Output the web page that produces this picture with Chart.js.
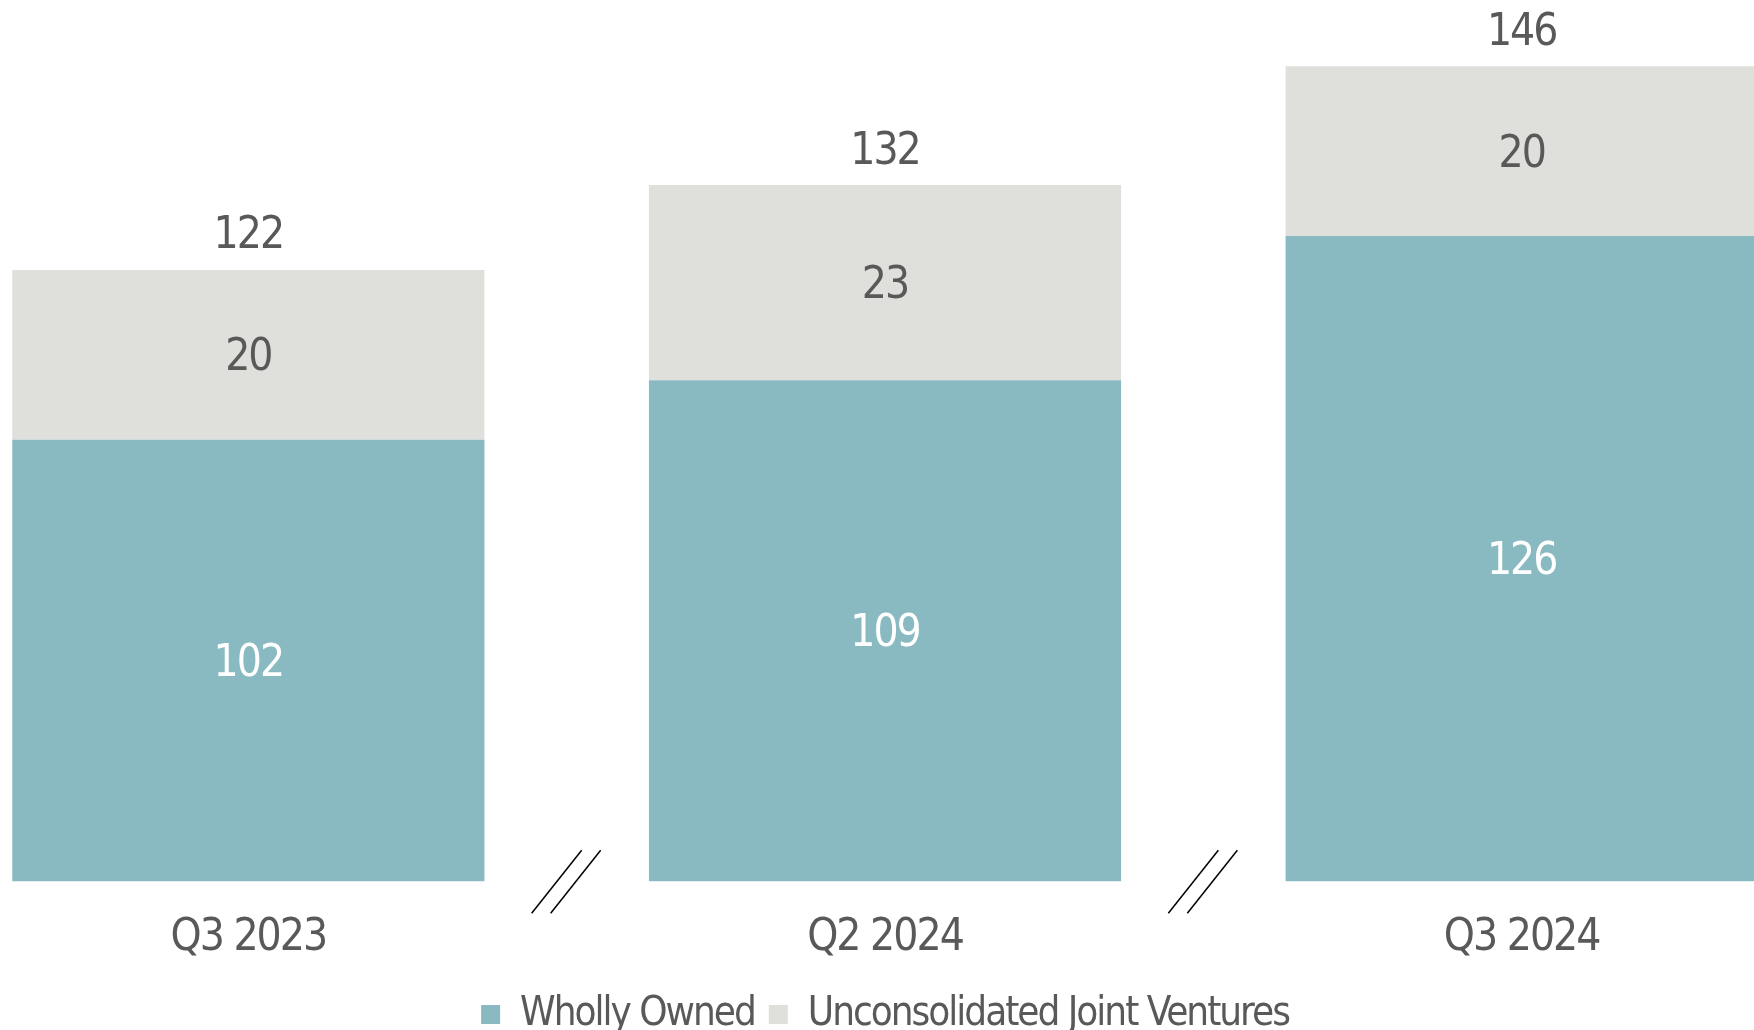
<!DOCTYPE html>
<html>
<head>
<meta charset="utf-8">
<script src="https://cdn.jsdelivr.net/npm/chart.js@4.4.1/dist/chart.umd.min.js"></script>
<style>
  html, body { margin: 0; padding: 0; background: #fff; overflow: hidden; }
  #wrap { position: absolute; left: -70px; top: 0; width: 1910px; height: 1030px; }
</style>
</head>
<body>
<div id="wrap"><canvas id="canvas"></canvas></div>
<script>
const quarters = ['Q3 2023', 'Q2 2024', 'Q3 2024'];
const whollyOwned = [102, 109, 126];
const jointVentures = [20, 23, 20];

const FONT = "'DejaVu Sans Condensed', 'DejaVu Sans', sans-serif";
const GREY_TEXT = '#595959';

// tighter tracking for all canvas text
const tightText = {
    id: 'tightText',
    beforeLayout(chart) { chart.ctx.letterSpacing = '-2px'; },
    beforeDraw(chart) { chart.ctx.letterSpacing = '-2px'; }
};

// value labels inside each segment and the stack total above it
const barLabels = {
    id: 'barLabels',
    afterDatasetsDraw(chart) {
        const ctx = chart.ctx;
        const bottom = chart.chartArea.bottom;
        ctx.save();
        ctx.textAlign = 'center';
        ctx.textBaseline = 'middle';
        ctx.font = '44px ' + FONT;
        chart.data.datasets.forEach((ds, di) => {
            const meta = chart.getDatasetMeta(di);
            meta.data.forEach((bar, i) => {
                const base = Math.min(bar.base, bottom);
                ctx.fillStyle = di === 0 ? '#ffffff' : GREY_TEXT;
                ctx.fillText(String(ds.data[i]), bar.x, (bar.y + base) / 2 + 4);
            });
        });
        const top = chart.getDatasetMeta(chart.data.datasets.length - 1);
        top.data.forEach((bar, i) => {
            const total = chart.data.datasets.reduce((s, ds) => s + ds.data[i], 0);
            ctx.fillStyle = GREY_TEXT;
            ctx.fillText(String(total), bar.x, bar.y - 33);
        });
        ctx.restore();
    }
};

// "//" axis-break marks between the quarters
const breakMarks = {
    id: 'breakMarks',
    afterDraw(chart) {
        const ctx = chart.ctx;
        const xs = chart.scales.x;
        const y = chart.chartArea.bottom;
        ctx.save();
        ctx.strokeStyle = '#000';
        ctx.lineWidth = 1.5;
        for (let i = 0; i < quarters.length - 1; i++) {
            const cx = (xs.getPixelForValue(i) + xs.getPixelForValue(i + 1)) / 2;
            [-35, -16].forEach(off => {
                ctx.beginPath();
                ctx.moveTo(cx + off, y + 32);
                ctx.lineTo(cx + off + 50, y - 31);
                ctx.stroke();
            });
        }
        ctx.restore();
    }
};

const ctx = document.getElementById('canvas').getContext('2d');
new Chart(ctx, {
    type: 'bar',
    data: {
        labels: quarters,
        datasets: [{
            label: 'Wholly Owned',
            data: whollyOwned,
            backgroundColor: '#8abac1'
        }, {
            label: 'Unconsolidated Joint Ventures',
            data: jointVentures,
            backgroundColor: '#dfdfdb'
        }]
    },
    options: {
        responsive: true,
        maintainAspectRatio: false,
        animation: false,
        layout: { padding: { top: 0, left: 0, right: 0, bottom: -14.5 } },
        datasets: {
            bar: { categoryPercentage: 1, barPercentage: 0.7416 }
        },
        scales: {
            x: {
                stacked: true,
                grid: { display: false },
                border: { display: false },
                ticks: { color: GREY_TEXT, font: { family: FONT, size: 44 }, padding: 23 },
                afterFit(scale) { scale.height -= 7.5; }
            },
            y: {
                stacked: true,
                display: false,
                min: 50,
                max: 153.8
            }
        },
        plugins: {
            tooltip: { enabled: false },
            legend: {
                position: 'bottom',
                labels: {
                    color: GREY_TEXT,
                    font: { family: FONT, size: 40 },
                    boxWidth: 19,
                    boxHeight: 19,
                    padding: 14
                }
            }
        }
    },
    plugins: [tightText, barLabels, breakMarks]
});
</script>
</body>
</html>
